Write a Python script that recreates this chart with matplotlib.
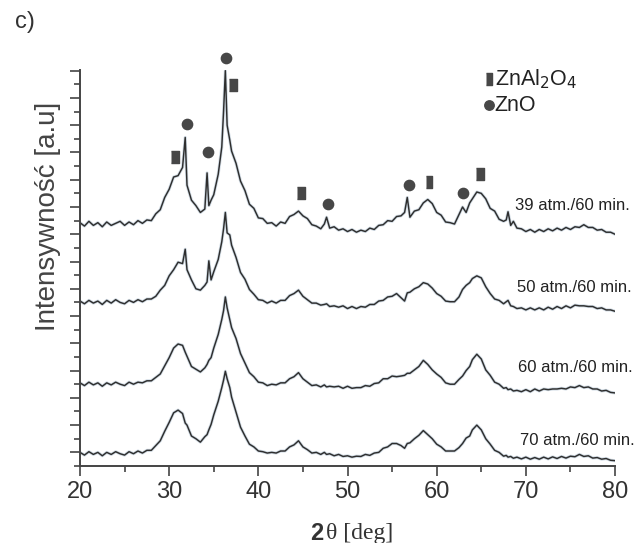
import matplotlib
matplotlib.use("Agg")
import matplotlib.pyplot as plt

plt.rcParams['font.family'] = ['Liberation Sans', 'DejaVu Sans']

# 2theta sampling positions (deg)
theta = [20.0, 20.5, 21.0, 21.5, 22.0, 22.5, 23.0, 23.5, 24.0, 24.5,
         25.0, 25.5, 26.0, 26.5, 27.0, 27.5, 28.0, 28.5, 29.0, 29.5,
         30.0, 30.5, 31.0, 31.5, 31.8, 32.0, 32.5, 33.0, 33.5, 34.0,
         34.25, 34.45, 34.7, 35.0, 35.5, 35.9, 36.1, 36.3, 36.5, 36.8,
         37.0, 37.5, 38.0, 38.5, 39.0, 39.5, 40.0, 40.5, 41.0, 41.5,
         42.0, 42.5, 43.0, 43.5, 44.0, 44.5, 45.0, 45.5, 46.0, 46.5,
         47.0, 47.4, 47.65, 48.0, 48.5, 49.0, 49.5, 50.0, 50.5, 51.0,
         51.5, 52.0, 52.5, 53.0, 53.5, 54.0, 54.5, 55.0, 55.5, 56.0,
         56.4, 56.7, 57.0, 57.5, 58.0, 58.5, 59.0, 59.5, 60.0, 60.5,
         61.0, 61.5, 62.0, 62.5, 62.9, 63.3, 63.7, 64.0, 64.5, 65.0,
         65.5, 66.0, 66.5, 67.0, 67.5, 67.8, 68.0, 68.3, 68.6, 69.0,
         69.5, 70.0, 70.5, 71.0, 71.5, 72.0, 72.5, 73.0, 73.5, 74.0,
         74.5, 75.0, 75.5, 76.0, 76.5, 77.0, 77.5, 78.0, 78.5, 79.0,
         79.5, 80.0]

# intensities (a.u., already stacked)
i_39 = [17.85, 17.6, 17.95, 17.65, 17.85, 17.55, 17.9, 17.65, 17.8, 17.95,
        17.65, 17.9, 17.7, 18.0, 17.8, 18.05, 18.0, 18.5, 18.8, 19.7,
        20.3, 21.2, 21.3, 21.9, 24.1, 20.6, 19.5, 19.1, 18.6, 18.85,
        21.5, 19.1, 19.5, 19.9, 21.4, 23.4, 26.0, 29.0, 25.0, 23.9,
        23.1, 22.2, 20.9, 20.2, 19.2, 18.9, 18.2, 18.15, 17.8, 17.85,
        17.6, 17.9, 17.8, 18.3, 18.45, 18.7, 18.35, 18.15, 17.7, 17.6,
        17.4, 17.75, 18.25, 17.45, 17.55, 17.3, 17.4, 17.2, 17.35, 17.15,
        17.3, 17.2, 17.45, 17.35, 17.65, 17.7, 18.0, 17.95, 18.3, 18.35,
        18.6, 19.7, 18.25, 18.7, 18.8, 19.3, 19.55, 19.25, 18.6, 18.4,
        17.9, 17.85, 17.75, 18.45, 19.0, 18.6, 19.3, 19.6, 20.1, 20.0,
        19.6, 18.9, 18.7, 18.1, 17.95, 18.05, 18.65, 17.65, 17.95, 17.45,
        17.4, 17.2, 17.35, 17.15, 17.35, 17.2, 17.4, 17.25, 17.45, 17.3,
        17.5, 17.35, 17.55, 17.5, 17.7, 17.5, 17.5, 17.3, 17.35, 17.15,
        17.15, 17.0]

i_50 = [12.1, 11.9, 12.15, 11.95, 12.1, 11.85, 12.15, 11.95, 12.2, 12.0,
        11.9, 12.15, 12.0, 12.2, 12.05, 12.25, 12.25, 12.45, 12.9, 13.25,
        13.95, 14.4, 14.95, 14.85, 15.9, 14.4, 13.65, 13.0, 12.9, 13.25,
        13.5, 15.05, 13.65, 14.25, 15.15, 16.45, 17.4, 18.6, 17.1, 16.95,
        16.2, 15.3, 14.2, 13.7, 12.95, 12.6, 12.2, 12.15, 11.95, 12.1,
        11.95, 12.15, 12.15, 12.5, 12.65, 12.9, 12.45, 12.2, 11.95, 11.95,
        11.8, 11.85, 11.9, 11.7, 11.75, 11.65, 11.75, 11.55, 11.7, 11.55,
        11.7, 11.65, 11.85, 11.85, 12.1, 12.15, 12.4, 12.45, 12.65, 12.35,
        12.1, 12.7, 12.75, 13.0, 13.15, 13.45, 13.35, 13.05, 12.65, 12.45,
        12.1, 12.05, 12.05, 12.4, 12.95, 13.25, 13.45, 13.75, 13.95, 13.8,
        13.15, 12.65, 12.25, 12.15, 11.9, 12.05, 12.15, 11.75, 11.7, 11.55,
        11.6, 11.45, 11.6, 11.45, 11.6, 11.45, 11.65, 11.5, 11.7, 11.55,
        11.75, 11.6, 11.8, 11.75, 11.75, 11.7, 11.7, 11.55, 11.6, 11.45,
        11.45, 11.35]

i_60 = [6.1, 5.9, 6.15, 5.95, 6.1, 5.85, 6.1, 5.95, 6.15, 6.0,
        5.9, 6.15, 6.0, 6.15, 6.1, 6.25, 6.25, 6.5, 6.75, 7.35,
        7.95, 8.65, 8.95, 8.85, 8.35, 8.05, 7.3, 7.1, 6.9, 7.2,
        7.45, 7.75, 7.95, 8.65, 9.65, 10.75, 11.4, 12.4, 11.6, 10.75,
        10.15, 9.35, 8.25, 7.55, 6.85, 6.55, 6.15, 6.1, 5.9, 6.0,
        5.95, 6.1, 6.1, 6.4, 6.55, 6.85, 6.4, 6.15, 5.9, 5.95,
        5.8, 5.95, 5.8, 5.85, 5.8, 5.85, 5.7, 5.85, 5.7, 5.75,
        5.75, 5.9, 5.85, 6.05, 6.1, 6.4, 6.4, 6.6, 6.55, 6.6,
        6.65, 6.8, 6.8, 7.05, 7.3, 7.75, 7.45, 7.05, 6.75, 6.5,
        6.1, 6.0, 6.0, 6.35, 6.6, 7.0, 7.3, 7.8, 8.2, 7.85,
        7.05, 6.65, 6.15, 6.0, 5.7, 5.75, 5.6, 5.65, 5.5, 5.55,
        5.45, 5.6, 5.45, 5.65, 5.5, 5.65, 5.6, 5.65, 5.65, 5.7,
        5.65, 5.8, 5.75, 5.9, 5.75, 5.8, 5.65, 5.65, 5.5, 5.55,
        5.4, 5.36]

i_70 = [1.0, 0.8, 1.05, 0.85, 1.0, 0.75, 1.0, 0.85, 1.05, 0.9,
        0.8, 1.05, 0.9, 1.1, 0.95, 1.15, 1.15, 1.5, 1.85, 2.55,
        3.2, 3.9, 4.1, 3.85, 3.15, 3.0, 2.2, 2.0, 1.75, 2.15,
        2.3, 2.65, 3.05, 3.75, 4.75, 5.75, 6.3, 6.95, 6.4, 5.75,
        5.05, 3.95, 2.85, 2.2, 1.6, 1.4, 1.1, 1.05, 0.95, 1.0,
        0.95, 1.1, 1.1, 1.4, 1.55, 1.85, 1.4, 1.2, 0.95, 1.0,
        0.85, 1.0, 0.85, 0.9, 0.75, 0.85, 0.7, 0.75, 0.65, 0.72,
        0.7, 0.85, 0.78, 0.95, 1.0, 1.3, 1.4, 1.65, 1.65, 1.5,
        1.3, 1.65, 1.7, 2.0, 2.25, 2.6, 2.3, 2.0, 1.6, 1.4,
        1.1, 1.1, 1.1, 1.35, 1.65, 2.05, 2.2, 2.65, 3.0, 2.65,
        2.0, 1.6, 1.15, 1.0, 0.72, 0.78, 0.65, 0.7, 0.57, 0.65,
        0.52, 0.65, 0.5, 0.62, 0.5, 0.65, 0.52, 0.67, 0.55, 0.7,
        0.58, 0.72, 0.68, 0.85, 0.7, 0.75, 0.58, 0.62, 0.5, 0.55,
        0.42, 0.39]

series = [i_39, i_50, i_60, i_70]
labels = ['39 atm./60 min.', '50 atm./60 min.', '60 atm./60 min.', '70 atm./60 min.']
label_x = [68.8, 69.0, 69.15, 69.35]
label_y = [19.1, 13.1, 7.2, 1.9]

# phase markers over the 39 atm pattern
spinel_x = [30.65, 37.2, 44.75, 64.85]
spinel_y = [22.7, 27.95, 20.0, 21.4]
spinel_thin_x = [59.15]
spinel_thin_y = [20.85]
zno_x = [31.95, 34.4, 36.35, 47.85, 56.9, 62.9]
zno_y = [25.1, 23.0, 29.95, 19.2, 20.65, 20.0]

fig = plt.figure(figsize=(6.42, 5.43), dpi=100)
ax = fig.add_axes([0.1246, 0.1418, 0.8334, 0.7293])

for vals in series:
    ax.plot(theta, vals, color='#a9bccd', lw=2.2, alpha=0.55)
    ax.plot(theta, vals, color='#2e2e2e', lw=1.05)

for lab, lx, ly in zip(labels, label_x, label_y):
    ax.text(lx, ly, lab, fontsize=12, color='#222222', va='center', ha='left')

rect = [(-0.65, -1), (0.65, -1), (0.65, 1), (-0.65, 1)]
thin = [(-0.42, -1), (0.42, -1), (0.42, 1), (-0.42, 1)]
mk = '#474747'
ax.plot(spinel_x, spinel_y, ls='none', marker=rect, ms=8.5, color=mk, clip_on=False)
ax.plot(spinel_thin_x, spinel_thin_y, ls='none', marker=thin, ms=8.8, color=mk, clip_on=False)
ax.plot(zno_x, zno_y, ls='none', marker='o', ms=7.4, color=mk, clip_on=False)

# legend drawn by hand like the original
ax.plot([65.85], [28.4], ls='none', marker=thin, ms=8.8, color=mk, clip_on=False)
ax.plot([65.85], [26.45], ls='none', marker='o', ms=6.8, color=mk, clip_on=False)
ax.text(66.5, 28.4, 'ZnAl$_2$O$_4$', fontsize=15.5, color='#222222', va='center', ha='left')
ax.text(66.5, 26.45, 'ZnO', fontsize=15.5, color='#222222', va='center', ha='left')

ax.set_xlim(20, 80)
ax.set_ylim(0, 29.05)
ax.set_xticks([20, 30, 40, 50, 60, 70, 80])
ax.set_xticks([25, 35, 45, 55, 65, 75], minor=True)
ax.set_yticks(list(range(1, 30, 2)))
ax.set_yticks(list(range(0, 30, 2)), minor=True)
ax.set_yticklabels([])
ax.tick_params(axis='both', which='both', direction='out', color='#444444', width=1.2)
ax.tick_params(axis='both', which='major', length=7)
ax.tick_params(axis='both', which='minor', length=4.5)
ax.tick_params(axis='x', labelsize=17, labelcolor='#333333', pad=4)
for side in ['top', 'right']:
    ax.spines[side].set_visible(False)
for side in ['left', 'bottom']:
    ax.spines[side].set_color('#444444')
    ax.spines[side].set_linewidth(1.4)

fig.text(48 / 642, 1 - 216 / 543, 'Intensywność [a.u]', rotation=90, fontsize=20,
         color='#444444', ha='center', va='center')
fig.text(323 / 642, 1 - 533 / 543, '2', fontsize=17, fontweight='bold', color='#333333',
         ha='right', va='center')
fig.text(326 / 642, 1 - 533 / 543, 'θ [deg]', fontsize=17, color='#333333', ha='left',
         va='center', family=['Liberation Serif', 'DejaVu Serif'])
fig.text(25 / 642, 1 - 22 / 543, 'c)', fontsize=17, color='#333333', ha='center', va='center')

fig.savefig('out.png', dpi=100, facecolor='white')
